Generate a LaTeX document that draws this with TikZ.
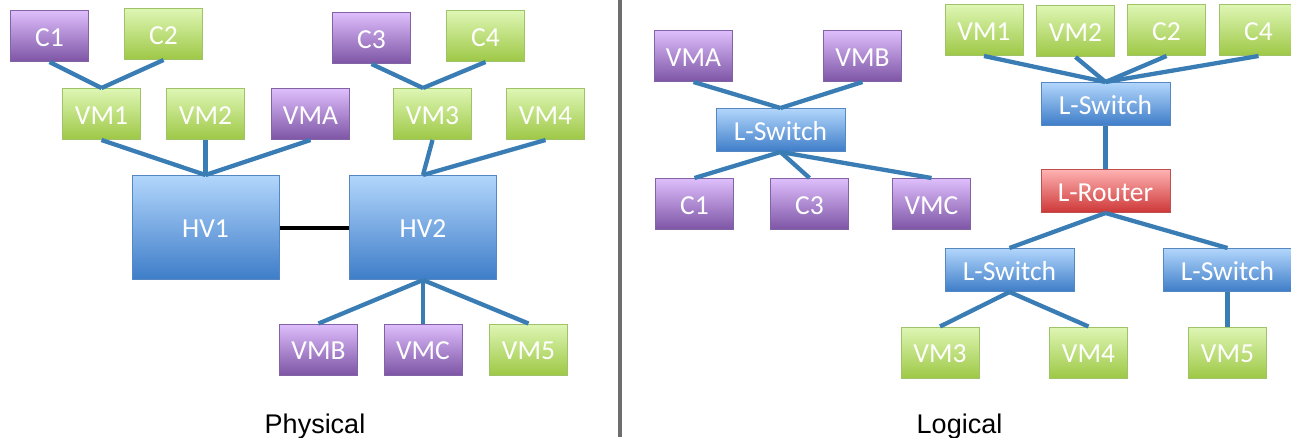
\documentclass[tikz,border=0pt]{standalone}
\usepackage{fontspec}
\setmainfont{Carlito}
\newfontfamily\capfont{Liberation Sans}
\definecolor{linkblue}{HTML}{3A7DB5}
\tikzset{
  x=1pt,y=-1pt,
  base/.style={rectangle,inner sep=0pt,text=white,font=\fontsize{27.5}{29}\selectfont,text height=20.4pt,text depth=0pt,line width=1pt,anchor=center},
  vmbox/.style={base,draw={rgb,255:red,160;green,195;blue,105},top color={rgb,255:red,222;green,246;blue,180},bottom color={rgb,255:red,158;green,200;blue,70},minimum width=78pt,minimum height=51pt},
  ctbox/.style={base,draw={rgb,255:red,130;green,100;blue,165},top color={rgb,255:red,222;green,190;blue,252},bottom color={rgb,255:red,125;green,85;blue,165},minimum width=78pt,minimum height=51pt},
  swbox/.style={base,draw={rgb,255:red,85;green,135;blue,195},top color={rgb,255:red,178;green,214;blue,252},bottom color={rgb,255:red,62;green,125;blue,200}},
  rtbox/.style={base,draw={rgb,255:red,190;green,80;blue,80},top color={rgb,255:red,255;green,178;blue,178},bottom color={rgb,255:red,205;green,55;blue,55}},
  ls/.style={swbox,minimum width=129pt,minimum height=43pt},
  hv/.style={swbox,minimum width=147pt,minimum height=104pt},
  link/.style={draw=linkblue,line width=4.3pt},
  trunk/.style={draw=black,line width=4pt},
  caption/.style={text=black,font=\capfont\fontsize{27}{29}\selectfont,inner sep=0pt},
}
\begin{document}
\begin{tikzpicture}
\useasboundingbox (0,0) rectangle (1291,437);
\clip (0,0) rectangle (1291,437);
\fill[white] (0,0) rectangle (1291,437);
% Physical
\node[ctbox] (pc1) at (49.5,36) {C1};
\node[vmbox] (pc2) at (163.5,34) {C2};
\node[vmbox] (pvm1) at (101.5,114) {VM1};
\node[vmbox] (pvm2) at (205.5,114) {VM2};
\node[ctbox] (pvma) at (310.5,114) {VMA};
\node[ctbox] (pc3) at (371.5,38) {C3};
\node[vmbox] (pc4) at (485.5,36) {C4};
\node[vmbox] (pvm3) at (432.5,114) {VM3};
\node[vmbox] (pvm4) at (545.5,114) {VM4};
\node[hv] (hv1) at (205.5,227.5) {HV1};
\node[hv] (hv2) at (423,227.5) {HV2};
\node[ctbox] (pvmb) at (318.5,349.5) {VMB};
\node[ctbox] (pvmc) at (423,349.5) {VMC};
\node[vmbox] (pvm5) at (528.5,349.5) {VM5};
\node[caption] (phys) at (315,426.5) {Physical};
\coordinate (pvm3top) at (423,88);
\draw[link] (pc1.south) -- (pvm1.north);
\draw[link] (pc2.south) -- (pvm1.north);
\draw[link] (pc3.south) -- (pvm3top);
\draw[link] (pc4.south) -- (pvm3top);
\draw[link] (pvm1.south) -- (hv1.north);
\draw[link] (pvm2.south) -- (hv1.north);
\draw[link] (pvma.south) -- (hv1.north);
\draw[link] (pvm3.south) -- (hv2.north);
\draw[link] (pvm4.south) -- (hv2.north);
\draw[link] (hv2.south) -- (pvmb.north);
\draw[link] (hv2.south) -- (pvmc.north);
\draw[link] (hv2.south) -- (pvm5.north);
\draw[trunk] (hv1.east) -- (hv2.west);
% Divider
\coordinate (divtop) at (620,0);
\coordinate (divbot) at (620,437);
\draw[draw={rgb,255:red,110;green,110;blue,110},line width=4pt] (divtop) -- (divbot);
% Logical
\node[ctbox] (lvma) at (693.5,56) {VMA};
\node[ctbox] (lvmb) at (862.5,56) {VMB};
\node[ls] (sw1) at (780.5,130) {L-Switch};
\node[ctbox] (lc1) at (694.5,204) {C1};
\node[ctbox] (lc3) at (809.5,204) {C3};
\node[ctbox] (lvmc) at (931.5,204) {VMC};
\node[vmbox] (lvm1) at (984,30) {VM1};
\node[vmbox] (lvm2) at (1075.5,31) {VM2};
\node[vmbox] (lc2) at (1166.5,30) {C2};
\node[vmbox] (lc4) at (1258.5,30) {C4};
\node[ls] (sw2) at (1105.5,104) {L-Switch};
\node[rtbox,minimum width=129pt,minimum height=43pt] (rt) at (1105.5,191) {L-Router};
\node[ls] (sw3) at (1009.5,270) {L-Switch};
\node[ls] (sw4) at (1227.5,270) {L-Switch};
\node[vmbox] (lvm3) at (940,352.5) {VM3};
\node[vmbox] (lvm4) at (1088.5,352.5) {VM4};
\node[vmbox] (lvm5) at (1227.5,352.5) {VM5};
\node[caption] (logi) at (959.5,426.5) {Logical};
\draw[link] (lvma.south) -- (sw1.north);
\draw[link] (lvmb.south) -- (sw1.north);
\draw[link] (sw1.south) -- (lc1.north);
\draw[link] (sw1.south) -- (lc3.north);
\draw[link] (sw1.south) -- (lvmc.north);
\draw[link] (lvm1.south) -- (sw2.north);
\draw[link] (lvm2.south) -- (sw2.north);
\draw[link] (lc2.south) -- (sw2.north);
\draw[link] (lc4.south) -- (sw2.north);
\draw[link] (sw2.south) -- (rt.north);
\draw[link] (rt.south) -- (sw3.north);
\draw[link] (rt.south) -- (sw4.north);
\draw[link] (sw3.south) -- (lvm3.north);
\draw[link] (sw3.south) -- (lvm4.north);
\draw[link] (sw4.south) -- (lvm5.north);
\end{tikzpicture}
\end{document}
